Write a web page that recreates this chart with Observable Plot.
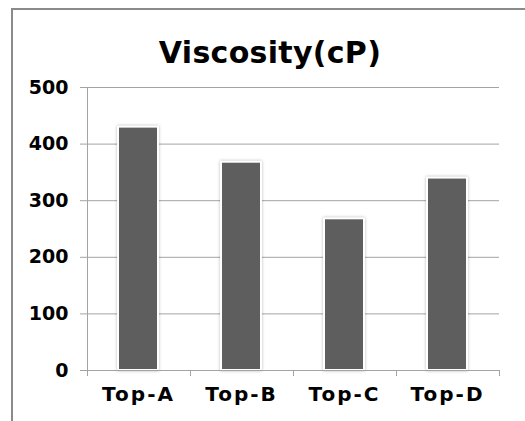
<!DOCTYPE html>
<html>
<head>
<meta charset="utf-8">
<script src="https://cdn.jsdelivr.net/npm/d3@7"></script>
<script src="https://cdn.jsdelivr.net/npm/@observablehq/plot@0.6"></script>
<style>
  html, body { margin: 0; padding: 0; background: #fff; overflow: hidden; }
  #wrap { position: relative; width: 525px; height: 421px; }
  #border {
    position: absolute; left: 11px; top: 8px; width: 600px; height: 500px;
    border-left: 2px solid #8a8a8a; border-top: 2px solid #8a8a8a;
  }
  #title {
    position: absolute; left: 0; top: 38px; width: 540px; text-align: center;
    font: bold 30px/30px "DejaVu Sans", sans-serif; color: #000; letter-spacing: 0.3px;
  }
  #chart { position: absolute; left: 0; top: 0; }
  #chart svg { background: transparent; overflow: visible; }
  g[aria-label="x-axis tick label"] text { letter-spacing: 2px; }
  g[aria-label="bar"] { filter: drop-shadow(0 0 1.5px rgba(0,0,0,0.28)); }
</style>
</head>
<body>
<div id="wrap">
  <div id="border"></div>
  <div id="chart"></div>
  <div id="title">Viscosity(cP)</div>
</div>
<script>
// Viscosity of each top sample, in centipoise
const samples = ["Top-A", "Top-B", "Top-C", "Top-D"];
const viscosity = [430, 368, 268, 340];
const yTicks = [0, 100, 200, 300, 400, 500];

const rows = samples.map((name, i) => ({name, value: viscosity[i]}));
const lineColor = "#a3a3a3";

// Short tick marks at the boundaries between categories, below the baseline
const boundaryTicks = (index, scales, values, dim) => {
  const g = d3.create("svg:g").attr("aria-label", "x boundary ticks");
  const left = dim.marginLeft, right = dim.width - dim.marginRight;
  const step = (right - left) / samples.length;
  const y0 = scales.y(0);
  for (let i = 0; i <= samples.length; i++) {
    const x = Math.round(left + i * step) + 0.5;
    g.append("line").attr("x1", x).attr("x2", x).attr("y1", y0).attr("y2", y0 + 6)
      .attr("stroke", lineColor);
  }
  return g.node();
};

const chart = Plot.plot({
  width: 525,
  height: 421,
  marginLeft: 87,
  marginRight: 26,
  marginTop: 87,
  marginBottom: 51,
  style: {fontFamily: "DejaVu Sans, sans-serif", fontWeight: "bold", color: "#000", background: "transparent"},
  x: {domain: samples, paddingInner: 0.61, paddingOuter: 0.305, label: null},
  y: {domain: [0, 500], label: null},
  marks: [
    Plot.gridY(yTicks, {stroke: lineColor, strokeOpacity: 1}),
    Plot.barY(rows, {x: "name", y: "value", fill: "#5e5e5e", stroke: "#fff", strokeWidth: 2}),
    Plot.frame({anchor: "left", stroke: lineColor, strokeOpacity: 1}),
    Plot.ruleY([0], {stroke: lineColor}),
    Plot.axisY({ticks: yTicks, tickSize: 7, tickPadding: 12, stroke: lineColor, strokeOpacity: 1, fontSize: 19, fill: "#000"}),
    Plot.axisX({tickSize: 0, tickPadding: 16, fontSize: 20, fill: "#000"}),
    boundaryTicks
  ]
});
document.getElementById("chart").appendChild(chart);
</script>
</body>
</html>
